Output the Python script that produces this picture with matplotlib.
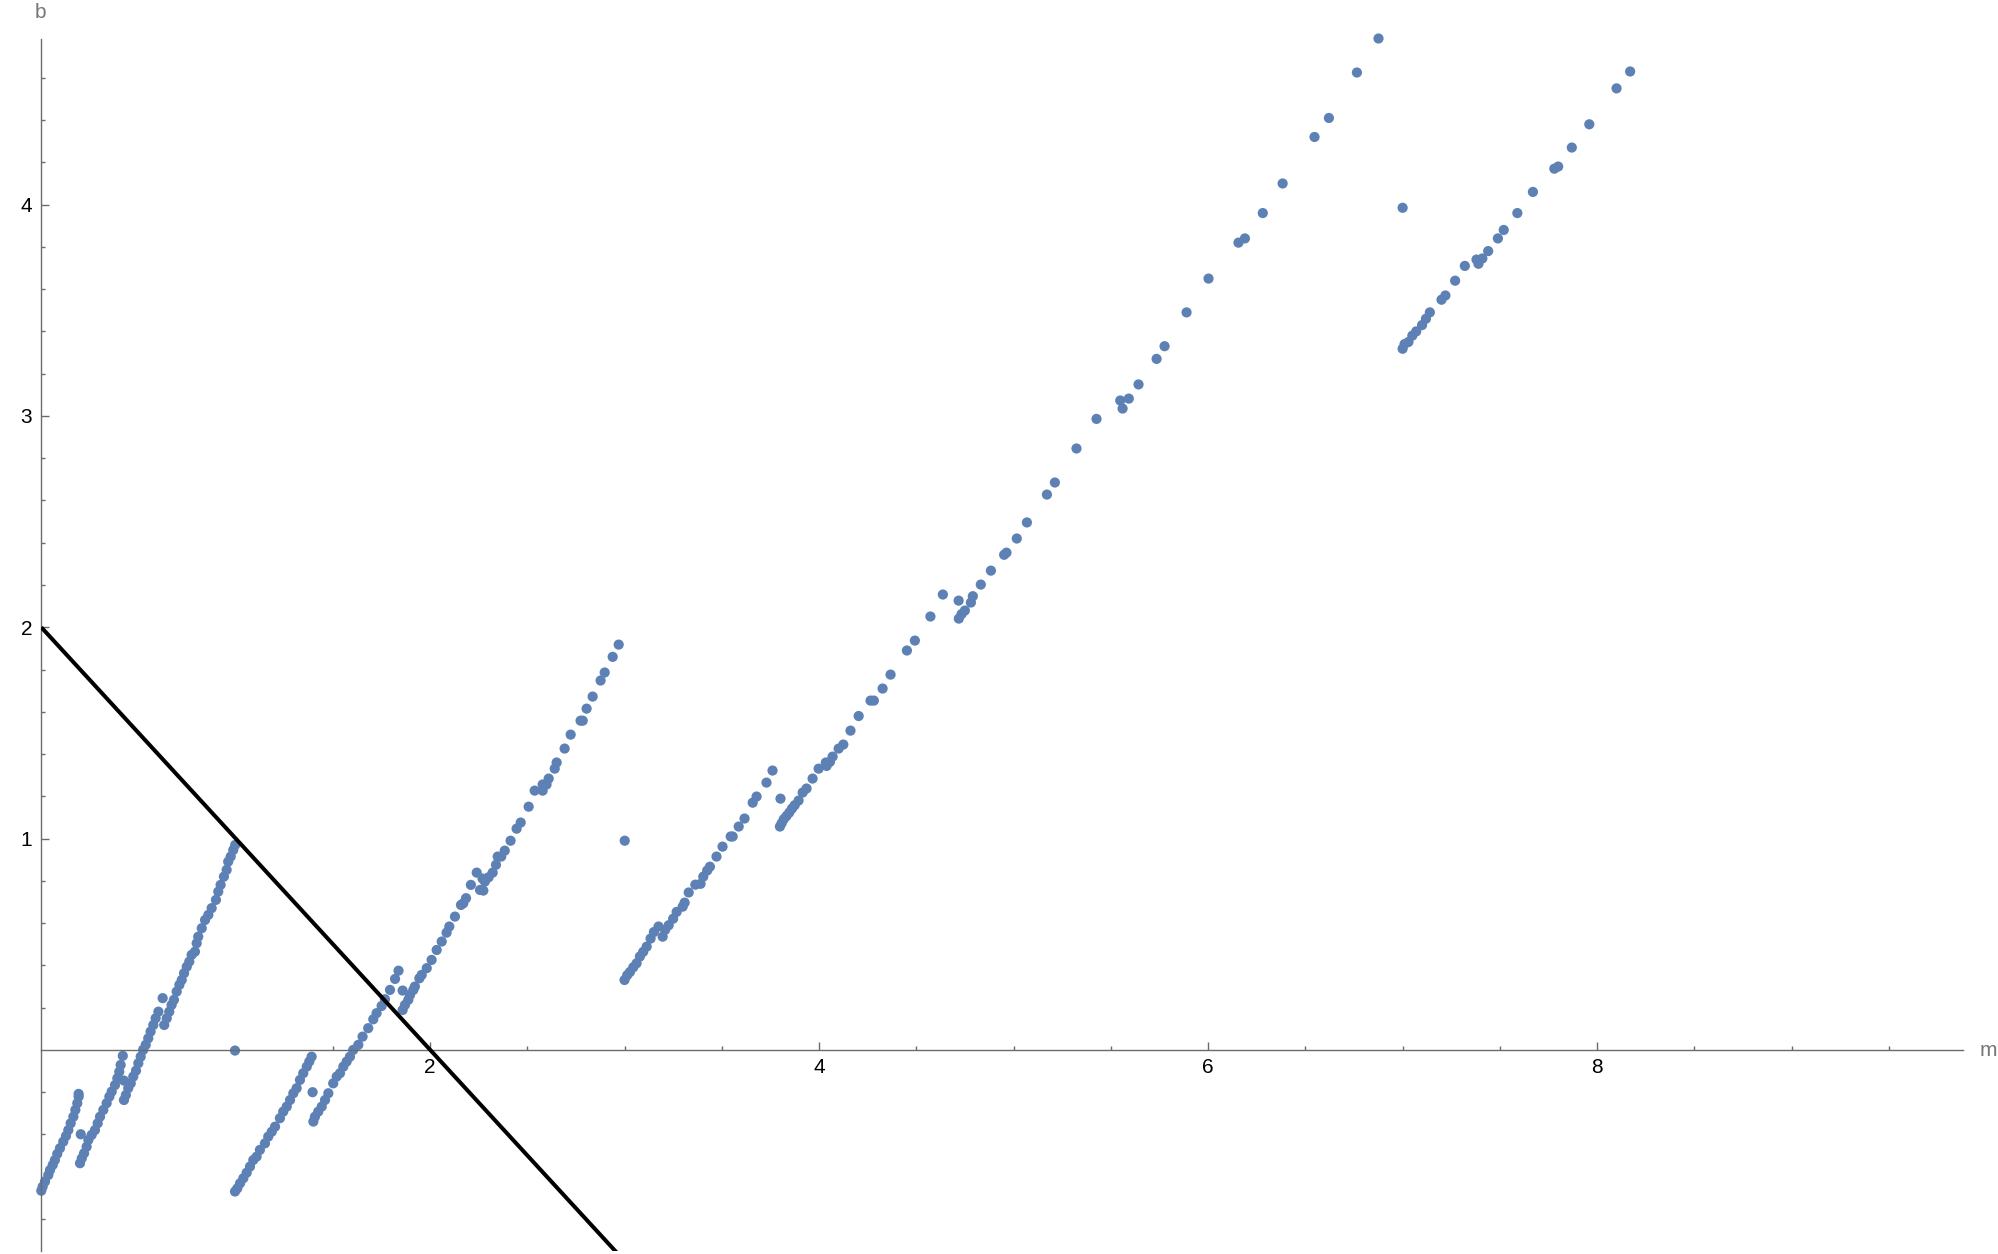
import numpy as np
import matplotlib
matplotlib.use("Agg")
import matplotlib.pyplot as plt

plt.rcParams['font.family'] = ['Liberation Sans', 'DejaVu Sans']

# ---------------- data (m, b) ----------------
seg_a1_m = [0.000, 0.007, 0.019, 0.036, 0.045, 0.059, 0.070, 0.082, 0.096, 0.113, 0.127, 0.139, 0.151, 0.165, 0.175, 0.185, 0.192, 0.192]
seg_a1_b = [-0.666, -0.647, -0.623, -0.592, -0.568, -0.544, -0.521, -0.492, -0.465, -0.434, -0.407, -0.379, -0.347, -0.316, -0.284, -0.252, -0.221, -0.208]

seg_a2_m = [0.199, 0.208, 0.220, 0.233, 0.242, 0.259, 0.276, 0.290, 0.302, 0.319, 0.336, 0.350, 0.362, 0.379, 0.391, 0.401, 0.408, 0.419]
seg_a2_b = [-0.536, -0.513, -0.489, -0.458, -0.426, -0.402, -0.379, -0.347, -0.316, -0.284, -0.252, -0.221, -0.197, -0.166, -0.134, -0.103, -0.071, -0.028]

seg_b_m = [0.425, 0.435, 0.447, 0.460, 0.473, 0.487, 0.499, 0.511, 0.524, 0.537, 0.550, 0.562, 0.576, 0.588, 0.602, 0.624,
           0.632, 0.645, 0.658, 0.670, 0.682, 0.696, 0.710, 0.722, 0.734, 0.748, 0.761, 0.773, 0.790, 0.799, 0.807, 0.825,
           0.842, 0.859, 0.876, 0.898, 0.910, 0.922, 0.939, 0.953, 0.961, 0.974, 0.987, 0.997]
seg_b_b = [-0.237, -0.213, -0.181, -0.158, -0.126, -0.098, -0.063, -0.032, 0.000, 0.024, 0.055, 0.087, 0.118, 0.150, 0.181, 0.245,
           0.118, 0.150, 0.181, 0.213, 0.237, 0.276, 0.308, 0.331, 0.363, 0.394, 0.418, 0.450, 0.465, 0.505, 0.536, 0.576,
           0.615, 0.639, 0.671, 0.710, 0.749, 0.781, 0.820, 0.852, 0.891, 0.915, 0.946, 0.970]

seg_c_m = [0.996, 1.008, 1.022, 1.039, 1.056, 1.073, 1.090, 1.107, 1.124, 1.150, 1.167, 1.185, 1.202, 1.227, 1.244, 1.262,
           1.279, 1.296, 1.313, 1.330, 1.347, 1.365, 1.378, 1.390]
seg_c_b = [-0.670, -0.655, -0.631, -0.607, -0.581, -0.552, -0.521, -0.505, -0.473, -0.442, -0.410, -0.387, -0.363, -0.323, -0.292, -0.268,
           -0.237, -0.205, -0.181, -0.142, -0.110, -0.079, -0.055, -0.032]

seg_d1_m = [1.399, 1.407, 1.424, 1.442, 1.459, 1.476, 1.501, 1.519, 1.536, 1.553, 1.570, 1.587, 1.604, 1.630, 1.652, 1.681,
            1.707, 1.724, 1.750, 1.767, 1.793, 1.819, 1.837]
seg_d1_b = [-0.339, -0.316, -0.292, -0.268, -0.237, -0.205, -0.158, -0.126, -0.110, -0.079, -0.055, -0.032, 0.000, 0.024, 0.063, 0.103,
            0.145, 0.174, 0.208, 0.240, 0.284, 0.336, 0.375]

seg_d2_m = [1.858, 1.870, 1.887, 1.896, 1.913, 1.921, 1.944, 1.956, 1.982, 2.007, 2.033, 2.059, 2.084, 2.098, 2.127, 2.158,
            2.170, 2.184, 2.209, 2.239, 2.256, 2.269, 2.281, 2.300, 2.273, 2.321, 2.338, 2.347, 2.365, 2.383, 2.413, 2.444,
            2.465, 2.506, 2.537, 2.578, 2.578, 2.598, 2.609, 2.640, 2.650, 2.691, 2.722, 2.773, 2.784, 2.804, 2.835, 2.876,
            2.897, 2.938, 2.969]
seg_d2_b = [0.189, 0.213, 0.237, 0.260, 0.284, 0.300, 0.339, 0.355, 0.387, 0.426, 0.473, 0.513, 0.555, 0.584, 0.631, 0.686,
            0.694, 0.718, 0.781, 0.839, 0.757, 0.811, 0.797, 0.817, 0.754, 0.839, 0.876, 0.915, 0.915, 0.943, 0.990, 1.047,
            1.076, 1.151, 1.227, 1.227, 1.256, 1.256, 1.284, 1.331, 1.360, 1.426, 1.492, 1.558, 1.558, 1.615, 1.672, 1.748,
            1.786, 1.860, 1.918]

seg_e_m = [2.999, 3.013, 3.027, 3.044, 3.061, 3.078, 3.095, 3.113, 3.133, 3.150, 3.174, 3.195, 3.208, 3.226, 3.249, 3.267,
           3.298, 3.308, 3.329, 3.363, 3.390, 3.404, 3.424, 3.438, 3.472, 3.503, 3.545, 3.555, 3.586, 3.616, 3.658, 3.678,
           3.729, 3.760]
seg_e_b = [0.331, 0.354, 0.369, 0.391, 0.410, 0.442, 0.464, 0.489, 0.527, 0.558, 0.584, 0.536, 0.568, 0.590, 0.621, 0.653,
           0.678, 0.697, 0.745, 0.782, 0.786, 0.820, 0.849, 0.867, 0.915, 0.962, 1.010, 1.010, 1.057, 1.095, 1.170, 1.199,
           1.265, 1.322]

seg_f_m = [3.798, 3.807, 3.818, 3.832, 3.846, 3.860, 3.874, 3.894, 3.915, 3.935, 3.966, 3.997, 4.034, 4.038, 4.055, 4.069,
           4.100, 4.124, 4.161, 4.203, 4.264, 4.281, 4.326, 4.367, 4.451, 4.492, 4.572, 4.636, 4.717, 4.718, 4.732, 4.749,
           4.780, 4.790, 4.831, 4.883, 4.951, 4.963, 5.016, 5.068, 5.171, 5.212, 5.323, 5.426, 5.560, 5.548, 5.592, 5.642,
           5.735, 5.776, 5.889, 6.002, 6.156, 6.189, 6.281, 6.383, 6.547, 6.621, 6.765, 6.876]
seg_f_b = [1.057, 1.073, 1.092, 1.107, 1.123, 1.142, 1.158, 1.180, 1.218, 1.237, 1.284, 1.331, 1.360, 1.344, 1.363, 1.388,
           1.426, 1.445, 1.511, 1.580, 1.653, 1.653, 1.710, 1.776, 1.890, 1.937, 2.051, 2.155, 2.126, 2.041, 2.062, 2.079,
           2.117, 2.147, 2.202, 2.268, 2.343, 2.353, 2.420, 2.496, 2.628, 2.685, 2.846, 2.986, 3.035, 3.073, 3.082, 3.149,
           3.270, 3.330, 3.490, 3.650, 3.820, 3.840, 3.960, 4.100, 4.320, 4.410, 4.625, 4.786]

seg_h_m = [7.000, 7.010, 7.030, 7.050, 7.070, 7.100, 7.120, 7.140, 7.200, 7.220, 7.270, 7.320, 7.380, 7.390, 7.410, 7.440,
           7.490, 7.520, 7.590, 7.670, 7.780, 7.800, 7.870, 7.960, 8.100, 8.170]
seg_h_b = [3.318, 3.340, 3.350, 3.380, 3.400, 3.430, 3.460, 3.490, 3.550, 3.570, 3.640, 3.710, 3.740, 3.720, 3.745, 3.780,
           3.840, 3.880, 3.960, 4.060, 4.170, 4.180, 4.270, 4.380, 4.550, 4.630]

isolated_m = [0.203, 0.425, 0.996, 1.395, 1.858, 3.000, 3.801, 7.000]
isolated_b = [-0.399, -0.145, -0.003, -0.200, 0.281, 0.990, 1.189, 3.985]

# the straight line b = 2 - m
line_intercept = 2.0
line_slope = -1.0

x_major = [2, 4, 6, 8]
y_major = [1, 2, 3, 4]

# ---------------- drawing ----------------
all_m = np.concatenate([seg_a1_m, seg_a2_m, seg_b_m, seg_c_m, seg_d1_m, seg_d2_m,
                        seg_e_m, seg_f_m, seg_h_m, isolated_m])
all_b = np.concatenate([seg_a1_b, seg_a2_b, seg_b_b, seg_c_b, seg_d1_b, seg_d2_b,
                        seg_e_b, seg_f_b, seg_h_b, isolated_b])

W, H = 1998, 1254
fig = plt.figure(figsize=(W / 100, H / 100), dpi=100)
ax = fig.add_axes([41.3 / W, 3.3 / H, 1921.4 / W, 1212.2 / H])
xmax = 9.88
ax.set_xlim(0, xmax)
ax.set_ylim(-0.95, 4.786)

axis_gray = '#6b6b6b'
for s in ['top', 'right']:
    ax.spines[s].set_visible(False)
ax.spines['left'].set_position(('data', 0))
ax.spines['bottom'].set_position(('data', 0))
for s in ['left', 'bottom']:
    ax.spines[s].set_color(axis_gray)
    ax.spines[s].set_linewidth(1.0)

ax.scatter(all_m, all_b, s=54, color='#5e81b5', edgecolors='none',
           clip_on=False, zorder=2)

lm = np.array([0.0, xmax])
ax.plot(lm, line_intercept + line_slope * lm, color='black', lw=2.9,
        zorder=3, solid_capstyle='butt')

ax.set_xticks(x_major)
ax.set_xticks([v for v in np.arange(0.5, 9.76, 0.5) if v not in x_major], minor=True)
ax.set_yticks(y_major)
ax.set_yticks([round(v, 1) for v in np.arange(-0.8, 4.79, 0.2)
               if abs(v) > 1e-6 and abs(v - round(v)) > 1e-6], minor=True)
ax.set_xticklabels([str(v) for v in x_major])
ax.set_yticklabels([str(v) for v in y_major])

ax.tick_params(which='both', direction='in', color=axis_gray, width=1.0,
               labelcolor='black', labelsize=15)
ax.tick_params(which='major', length=5.5)
ax.tick_params(which='minor', length=3.0)
ax.tick_params(axis='x', which='major', pad=5.5)
ax.tick_params(axis='y', which='major', pad=6.5)

fig.text(40 / W, 1 - 12 / H, 'b', ha='center', va='center', fontsize=15, color='#777777')
fig.text(1988 / W, 1 - 1050 / H, 'm', ha='center', va='center', fontsize=15, color='#777777')

fig.savefig('out.png', dpi=100)
